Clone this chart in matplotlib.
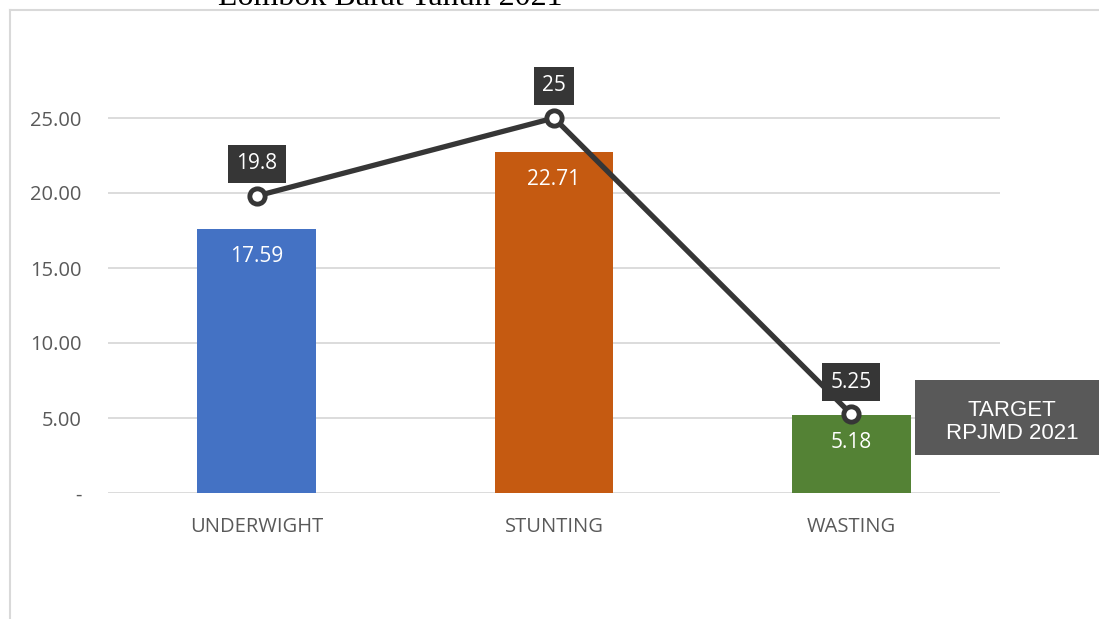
import matplotlib
matplotlib.use("Agg")
import matplotlib.pyplot as plt
from matplotlib.lines import Line2D
from matplotlib.patches import Rectangle

# data
kategori = ["UNDERWIGHT", "STUNTING", "WASTING"]
nilai = [17.59, 22.71, 5.18]
target = [19.8, 25, 5.25]
label_target = ["19.8", "25", "5.25"]
warna_bar = ["#4472C4", "#C55A11", "#548235"]
yticks = [0, 5, 10, 15, 20, 25]
ytick_labels = ["-", "5.00", "10.00", "15.00", "20.00", "25.00"]

W, H = 1099, 619
fig = plt.figure(figsize=(W / 100, H / 100), dpi=100)
fig.patch.set_facecolor("white")

# bingkai chart (garis abu-abu kiri dan atas)
fig.add_artist(Line2D([10 / W, 10 / W], [0, 1 - 10 / H], color="#D9D9D9", lw=1.5))
fig.add_artist(Line2D([10 / W, 1], [1 - 10 / H, 1 - 10 / H], color="#D9D9D9", lw=1.5))

# judul terpotong di atas (seperti di gambar asli)
fig.text(390 / W, 1 - 5 / H, "Lombok Barat Tahun 2021", ha="center", va="baseline",
         fontsize=23, family="Liberation Serif", color="black")

ax = fig.add_axes([108 / W, (H - 493) / H, (1000 - 108) / W, (493 - 43) / H])
x = list(range(len(kategori)))
ax.bar(x, nilai, width=0.4, color=warna_bar, zorder=2)
ax.set_xlim(-0.5, 2.5)
ax.set_ylim(0, 30)
ax.set_yticks(yticks)
ax.set_yticklabels(ytick_labels)
ax.set_xticks(x)
ax.set_xticklabels(kategori)
ax.grid(axis="y", color="#D9D9D9", lw=1.3, zorder=0)
for s in ax.spines.values():
    s.set_visible(False)
ax.tick_params(length=0, colors="#595959", labelsize=14.5)
ax.tick_params(axis="y", pad=19)
ax.tick_params(axis="x", pad=17)
for t in ax.get_xticklabels() + ax.get_yticklabels():
    t.set_family("Open Sans")

# label di dalam bar
for xi, v in zip(x, nilai):
    ax.text(xi, v - 1.8, f"{v:.2f}", ha="center", va="center", color="white",
            fontsize=15, family="Open Sans", zorder=4)

# garis target
ax.plot(x, target, color="#363636", lw=3.8, marker="o", markersize=11,
        markerfacecolor="white", markeredgecolor="#363636", markeredgewidth=3.5,
        zorder=5, clip_on=False)
for xi, v, lab in zip(x, target, label_target):
    ax.text(xi, v + 2.15, lab, ha="center", va="center", color="white",
            fontsize=15, family="Open Sans", zorder=6,
            bbox=dict(boxstyle="square,pad=0.4", fc="#363636", ec="none"))

# kotak keterangan target
fig.add_artist(Rectangle((915 / W, 1 - 455 / H), (W - 915) / W, 75 / H,
                         transform=fig.transFigure, fc="#595959", ec="none"))
fig.text(1012 / W, 1 - 422 / H, "TARGET\nRPJMD 2021", ha="center", va="center",
         color="white", fontsize=16, family="Liberation Sans", linespacing=1.15)

fig.savefig("out.png", dpi=100)
